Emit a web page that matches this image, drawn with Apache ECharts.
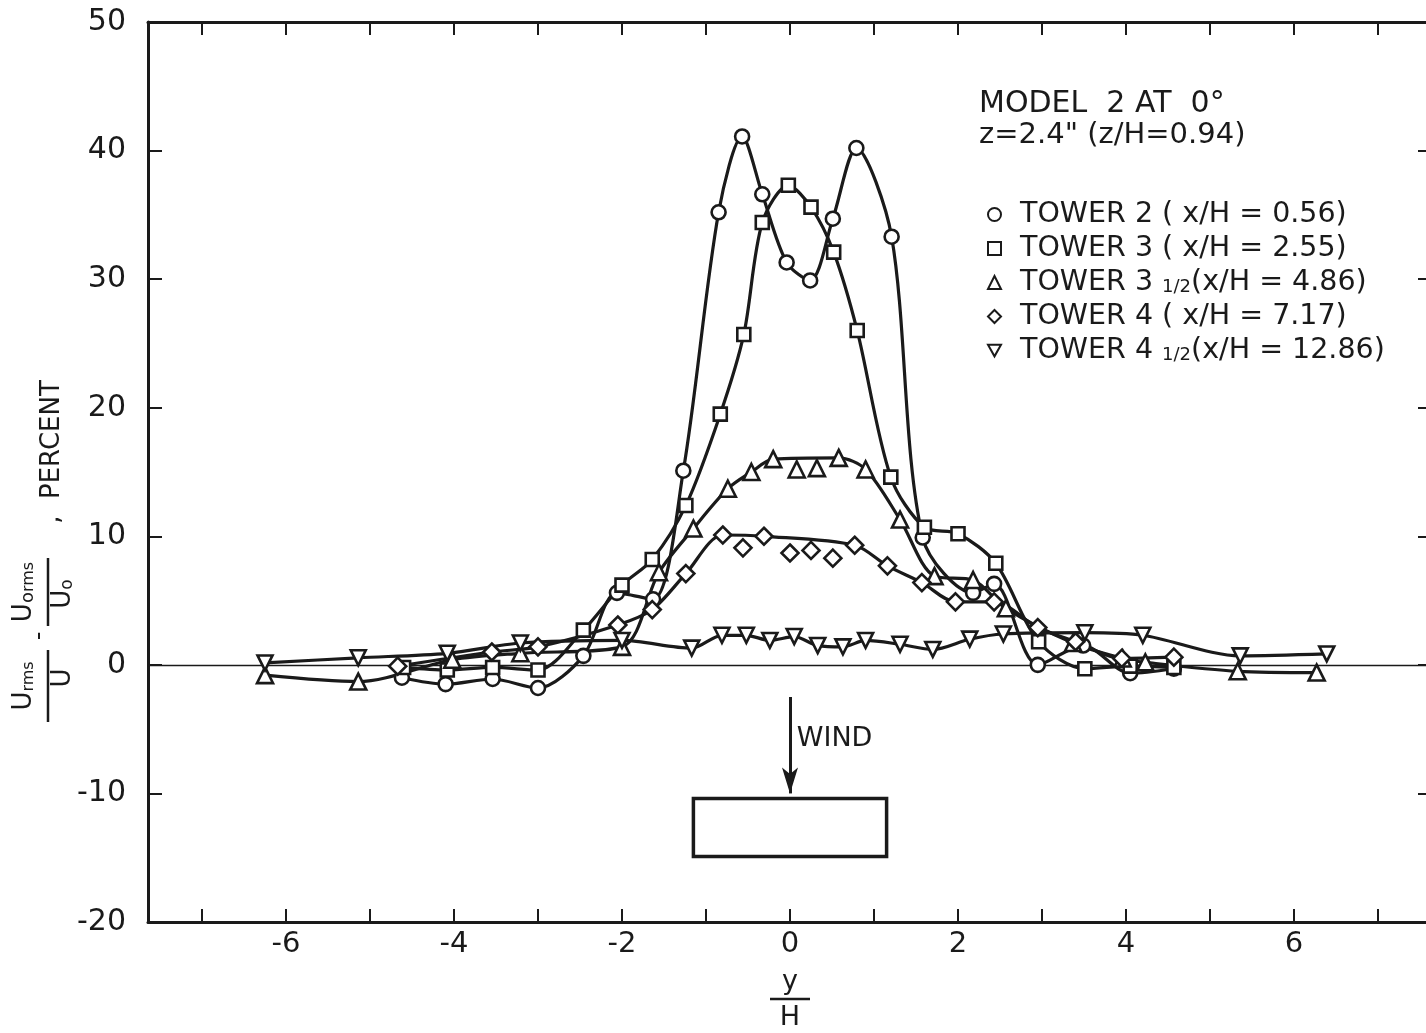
<!DOCTYPE html>
<html>
<head>
<meta charset="utf-8">
<script src="https://cdn.jsdelivr.net/npm/echarts@6/dist/echarts.min.js"></script>
<style>
html,body{margin:0;padding:0;background:#fff;}
#c{width:1426px;height:1033px;}
</style>
</head>
<body>
<div id="c"></div>
<script>
// ---- data (x = y/H, y = percent) ----
const tower2 = [[-4.62,-1.0],[-4.1,-1.5],[-3.54,-1.1],[-3.0,-1.8],[-2.46,0.7],[-2.06,5.6],[-1.63,5.1],[-1.27,15.1],[-0.85,35.2],[-0.57,41.1],[-0.33,36.6],[-0.04,31.3],[0.24,29.9],[0.51,34.7],[0.79,40.2],[1.21,33.3],[1.58,9.9],[2.18,5.6],[2.43,6.3],[2.95,0.0],[3.49,1.5],[4.05,-0.65],[4.57,-0.3]];
const tower3 = [[-4.6,-0.2],[-4.08,-0.4],[-3.54,-0.2],[-3.0,-0.4],[-2.46,2.7],[-2.0,6.2],[-1.64,8.2],[-1.24,12.4],[-0.83,19.5],[-0.55,25.7],[-0.33,34.4],[-0.02,37.3],[0.25,35.6],[0.52,32.1],[0.8,26.0],[1.2,14.6],[1.6,10.7],[2.0,10.2],[2.45,7.9],[2.96,1.8],[3.51,-0.3],[4.05,-0.1],[4.57,-0.2]];
const tower35 = [[-6.25,-0.8],[-5.14,-1.3],[-4.02,0.4],[-3.21,0.9],[-2.0,1.4],[-1.56,7.2],[-1.15,10.6],[-0.74,13.7],[-0.46,15.0],[-0.2,16.0],[0.08,15.2],[0.32,15.3],[0.58,16.1],[0.9,15.2],[1.31,11.3],[1.72,6.9],[2.18,6.6],[2.57,4.4],[3.37,1.7],[3.96,0.5],[4.23,0.2],[5.33,-0.5],[6.27,-0.6]];
const tower4 = [[-4.67,-0.1],[-3.55,1.0],[-3.0,1.4],[-2.05,3.1],[-1.64,4.3],[-1.24,7.1],[-0.8,10.1],[-0.56,9.1],[-0.31,10.0],[0.0,8.7],[0.25,8.9],[0.51,8.3],[0.77,9.3],[1.16,7.7],[1.57,6.4],[1.97,4.9],[2.43,4.9],[2.95,2.9],[3.4,1.8],[3.95,0.5],[4.57,0.6]];
const tower45 = [[-6.25,0.15],[-5.14,0.55],[-4.08,0.9],[-3.21,1.7],[-2.0,1.9],[-1.17,1.3],[-0.81,2.3],[-0.52,2.3],[-0.24,1.9],[0.05,2.2],[0.33,1.5],[0.63,1.4],[0.9,1.9],[1.31,1.6],[1.7,1.2],[2.14,2.0],[2.54,2.4],[3.51,2.5],[4.2,2.3],[5.36,0.7],[6.39,0.85]];
// points that lie off the faired curve (indices into the arrays above)
const offCurve35 = [10, 11];
const offCurve4 = [7, 9, 10, 11];

const seriesNames = ['TOWER 2', 'TOWER 3', 'TOWER 3 1/2', 'TOWER 4', 'TOWER 4 1/2'];
const legendTexts = ['TOWER 2 ( x/H = 0.56)', 'TOWER 3 ( x/H = 2.55)', 'TOWER 3 {f|1/2}(x/H = 4.86)', 'TOWER 4 ( x/H = 7.17)', 'TOWER 4 {f|1/2}(x/H = 12.86)'];
const xLabelValues = [-6, -4, -2, 0, 2, 4, 6];
const xRange = [-7.643, 7.643];
const yRange = [-20, 50];
const titleLines = ['MODEL  2 AT  0°', 'z=2.4" (z/H=0.94)'];
const building = [[-1.15, -10.4], [1.15, -14.9]];
const windArrow = [[0, -2.5], [0, -10.0]];

const INK = '#1a1a1a';
const FONT = 'DejaVu Sans';
const symbols = ['circle', 'rect', 'triangle', 'diamond', 'path://M0,0L10,0L5,9Z'];
const symSizes = [14, 13, 16, 17, 15];
const allData = [tower2, tower3, tower35, tower4, tower45];
const skips = [[], [], offCurve35, offCurve4, []];

const series = [];
allData.forEach((d, i) => {
  const line = {
    type: 'line', name: seriesNames[i] + ' curve', data: d.filter((p, k) => !skips[i].includes(k)),
    showSymbol: false, symbol: 'none', smooth: 0.3, z: 2,
    lineStyle: { color: INK, width: 3.2 }, silent: true
  };
  if (i === 4) {
    line.markLine = {
      silent: true, symbol: 'none', label: { show: false },
      data: [
        { yAxis: 0, lineStyle: { color: INK, width: 1.3, type: 'solid' } },
        [ { coord: windArrow[0], symbol: 'none', lineStyle: { color: INK, width: 3, type: 'solid' } },
          { coord: windArrow[1], symbol: 'arrow', symbolSize: [12, 26] } ]
      ]
    };
    line.markArea = {
      silent: true,
      itemStyle: { color: 'rgba(0,0,0,0)', borderColor: INK, borderWidth: 3.5 },
      data: [[ { coord: building[0] }, { coord: building[1] } ]]
    };
  }
  series.push(line);
  series.push({
    type: 'scatter', name: seriesNames[i], data: d, symbol: symbols[i], symbolSize: symSizes[i], z: 5,
    itemStyle: { color: '#fff', borderColor: INK, borderWidth: 2.6, opacity: 1 }
  });
});

const chart = echarts.init(document.getElementById('c'), null, { renderer: 'canvas' });
const axisLineStyle = { onZero: false, lineStyle: { color: INK, width: 3 } };
const tickStyle = { show: true, inside: true, length: 13, lineStyle: { color: INK, width: 2 } };
chart.setOption({
  animation: false,
  backgroundColor: '#fff',
  grid: { left: 148, top: 22, width: 1284, bottom: 111, containLabel: false, outerBoundsMode: 'none' },
  xAxis: [
    { type: 'value', min: xRange[0], max: xRange[1], splitNumber: 15, position: 'bottom',
      axisLine: axisLineStyle, axisTick: tickStyle, splitLine: { show: false },
      axisLabel: { color: INK, fontFamily: FONT, fontSize: 29, margin: 8,
        formatter: v => { const r = Math.round(v); return (Math.abs(v - r) < 1e-6 && xLabelValues.includes(r)) ? String(r) : ''; } } },
    { type: 'value', min: xRange[0], max: xRange[1], splitNumber: 15, position: 'top',
      axisLine: axisLineStyle, axisTick: tickStyle, splitLine: { show: false }, axisLabel: { show: false } }
  ],
  yAxis: [
    { type: 'value', min: yRange[0], max: yRange[1], interval: 10, position: 'left',
      axisLine: axisLineStyle, axisTick: Object.assign({}, tickStyle, { length: 14 }), splitLine: { show: false },
      axisLabel: { color: INK, fontFamily: FONT, fontSize: 30, margin: 22 } },
    { type: 'value', min: yRange[0], max: yRange[1], interval: 10, position: 'right',
      axisLine: axisLineStyle, axisTick: Object.assign({}, tickStyle, { length: 14 }), splitLine: { show: false }, axisLabel: { show: false } }
  ],
  legend: {
    orient: 'vertical', left: 982, top: 195, itemWidth: 13, itemHeight: 13, itemGap: 5,
    selectedMode: false,
    data: seriesNames.map((n, i) => ({ name: n, icon: symbols[i] })),
    itemStyle: { color: '#fff', borderColor: INK, borderWidth: 2 },
    formatter: n => legendTexts[seriesNames.indexOf(n)],
    textStyle: { color: INK, fontFamily: FONT, fontSize: 28.5, lineHeight: 28, padding: [0, 0, 0, 14],
      rich: { f: { fontSize: 18, fontFamily: FONT, color: INK, verticalAlign: 'bottom', lineHeight: 28 } } }
  },
  series: series
});

// annotation text (titles, axis names)
const windPos = chart.convertToPixel({ xAxisIndex: 0, yAxisIndex: 0 }, [0.08, -5.8]);
const R = Math.PI / 2;
const tstyle = (text, size, extra) => Object.assign({ text: text, fill: INK, font: size + 'px "' + FONT + '"' }, extra || {});
chart.setOption({
  graphic: [
    { type: 'text', left: 979, top: 89, style: tstyle(titleLines[0], 30) },
    { type: 'text', left: 979, top: 121, style: tstyle(titleLines[1], 29) },
    { type: 'text', x: windPos[0], y: windPos[1], style: tstyle('WIND', 27, { align: 'left', verticalAlign: 'middle' }) },
    // x-axis name y/H
    { type: 'text', x: 790, y: 982, style: tstyle('y', 27, { align: 'center', verticalAlign: 'middle' }) },
    { type: 'line', shape: { x1: 770, y1: 999, x2: 810, y2: 999 }, style: { stroke: INK, lineWidth: 2.5 } },
    { type: 'text', x: 790, y: 1018, style: tstyle('H', 27, { align: 'center', verticalAlign: 'middle' }) },
    // y-axis name (rotated)
    { type: 'text', x: 24, y: 686, rotation: R, style: tstyle('U{s|rms}', 26, { align: 'center', verticalAlign: 'middle',
        rich: { s: { fontSize: 16, fontFamily: FONT, fill: INK, verticalAlign: 'bottom' } } }) },
    { type: 'line', shape: { x1: 48, y1: 650, x2: 48, y2: 722 }, style: { stroke: INK, lineWidth: 2.5 } },
    { type: 'text', x: 63, y: 678, rotation: R, style: tstyle('U', 26, { align: 'center', verticalAlign: 'middle' }) },
    { type: 'text', x: 40, y: 636, rotation: R, style: tstyle('-', 24, { align: 'center', verticalAlign: 'middle' }) },
    { type: 'text', x: 24, y: 592, rotation: R, style: tstyle('U{a|o}{s|rms}', 26, { align: 'center', verticalAlign: 'middle',
        rich: { a: { fontSize: 18, fontFamily: FONT, fill: INK, verticalAlign: 'bottom' }, s: { fontSize: 16, fontFamily: FONT, fill: INK, verticalAlign: 'bottom' } } }) },
    { type: 'line', shape: { x1: 48, y1: 558, x2: 48, y2: 626 }, style: { stroke: INK, lineWidth: 2.5 } },
    { type: 'text', x: 63, y: 594, rotation: R, style: tstyle('U{a|o}', 26, { align: 'center', verticalAlign: 'middle',
        rich: { a: { fontSize: 17, fontFamily: FONT, fill: INK, verticalAlign: 'bottom' } } }) },
    { type: 'text', x: 52, y: 452, rotation: R, style: tstyle(',  PERCENT', 26, { align: 'center', verticalAlign: 'middle' }) }
  ]
});
</script>
</body>
</html>
